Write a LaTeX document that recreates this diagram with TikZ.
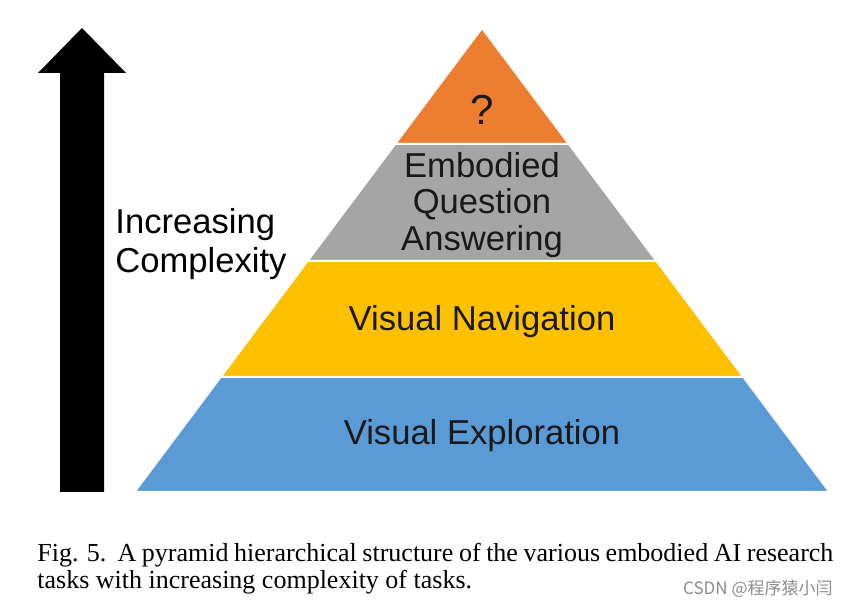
\documentclass[tikz,border=0pt]{standalone}
\usepackage{fontspec}
\setmainfont{Liberation Serif}
\newfontfamily\labelfont{Liberation Sans}
\newfontfamily\cjkfont{Noto Sans CJK SC}
\definecolor{topOrange}{HTML}{ED7D31}
\definecolor{eqaGray}{HTML}{A5A5A5}
\definecolor{navYellow}{HTML}{FFC000}
\definecolor{expBlue}{HTML}{5B9BD5}

\begin{document}
\begin{tikzpicture}[x=0.5pt, y=-0.5pt,
  layer/.style={draw=white, line width=1pt},
  tasklabel/.style={font=\labelfont\fontsize{17.3}{18.3}\selectfont, align=center, inner sep=0pt, text=black!90}]
\useasboundingbox (0,0) rectangle (848,608);
% complexity arrow
\fill[black] (60,492) -- (60,73) -- (38,73) -- (82,28) -- (126,73) -- (104,73) -- (104,492) -- cycle;
\node[font=\labelfont\fontsize{17.3}{19.5}\selectfont, align=left, inner sep=0pt, anchor=west] (complexity) at (115,244) {Increasing\\Complexity};
% pyramid layers, bottom to top
\filldraw[layer, fill=expBlue] (134.5,492) -- (829.5,492) -- (743.4,377) -- (220.6,377) -- cycle;
\filldraw[layer, fill=navYellow] (220.6,377) -- (743.4,377) -- (656.5,261) -- (307.5,261) -- cycle;
\filldraw[layer, fill=eqaGray] (307.5,261) -- (656.5,261) -- (568.9,144) -- (395.1,144) -- cycle;
\filldraw[layer, fill=topOrange] (395.1,144) -- (568.9,144) -- (482,28) -- cycle;
\node[tasklabel, font=\labelfont\fontsize{21}{22}\selectfont] (open) at (482,110) {?};
\node[tasklabel] (eqa) at (482,205) {Embodied\\Question\\Answering};
\node[tasklabel] (nav) at (482,322) {Visual Navigation};
\node[tasklabel] (explore) at (482,436) {Visual Exploration};
% caption and watermark
\node[anchor=north west, inner sep=0pt, text width=398pt, align=justify, font=\fontsize{13}{13.5}\selectfont] (caption) at (37,543)
  {Fig. 5.\ \ A pyramid hierarchical structure of the various embodied AI research\linebreak tasks with increasing complexity of tasks.};
\node[anchor=east, inner sep=0pt, text=black!45, font=\cjkfont\fontsize{8.5}{9}\selectfont] (mark) at (833,589) {CSDN @程序猿小闫};
\end{tikzpicture}
\end{document}
